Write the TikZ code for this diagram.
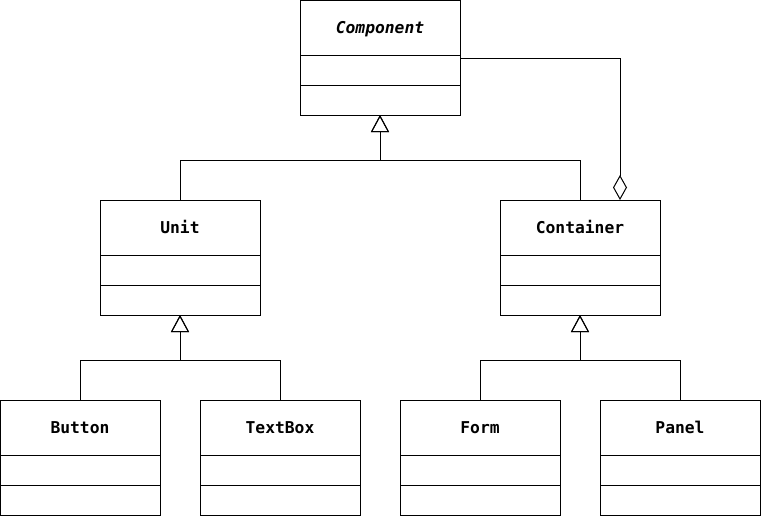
\documentclass[tikz,border=0pt]{standalone}
\usepackage{fontspec}
\setmonofont{DejaVu Sans Mono}
\usetikzlibrary{positioning,arrows.meta,calc}
\tikzset{
  cls/.style={draw, minimum width=160pt, minimum height=55pt, inner sep=0pt, outer sep=0pt,
    text height=1.12em, text depth=0em,
    font=\ttfamily\bfseries\fontsize{16.3}{19}\selectfont},
  part/.style={draw, minimum width=160pt, minimum height=30pt, inner sep=0pt, outer sep=0pt, below=0pt of #1},
  isa/.style={-{Triangle[open,length=17pt,width=18pt]}},
  has/.style={{Diamond[open,length=25pt,width=14pt]}-}
}
\begin{document}
\begin{tikzpicture}[x=1pt,y=-1pt,line width=1pt]
        \useasboundingbox (0,0) rectangle (761,517);

        % classes
        \node[cls] (comp) at (380,27.5) {\itshape Component};
        \node[part=comp] (comp-a) {};
        \node[part=comp-a] (comp-b) {};

        \node[cls] (unit) at (180,227.5) {Unit};
        \node[part=unit] (unit-a) {};
        \node[part=unit-a] (unit-b) {};

        \node[cls] (cont) at (580,227.5) {Container};
        \node[part=cont] (cont-a) {};
        \node[part=cont-a] (cont-b) {};

        \node[cls] (btn) at (80,427.5) {Button};
        \node[part=btn] (btn-a) {};
        \node[part=btn-a] (btn-b) {};

        \node[cls] (tbox) at (280,427.5) {TextBox};
        \node[part=tbox] (tbox-a) {};
        \node[part=tbox-a] (tbox-b) {};

        \node[cls] (form) at (480,427.5) {Form};
        \node[part=form] (form-a) {};
        \node[part=form-a] (form-b) {};

        \node[cls] (panel) at (680,427.5) {Panel};
        \node[part=panel] (panel-a) {};
        \node[part=panel-a] (panel-b) {};

        % inheritance
        \draw[isa] (unit.north) -- ++(0,-40) -| (comp-b.south);
        \draw[isa] (cont.north) -- ++(0,-40) -| (comp-b.south);
        \draw[isa] (btn.north) -- ++(0,-40) -| (unit-b.south);
        \draw[isa] (tbox.north) -- ++(0,-40) -| (unit-b.south);
        \draw[isa] (form.north) -- ++(0,-40) -| (cont-b.south);
        \draw[isa] (panel.north) -- ++(0,-40) -| (cont-b.south);

        % aggregation
        \coordinate (agg) at ($(cont.north)+(40,0)$);
        \draw[has] (agg) |- ([yshift=-3pt]comp-a.north east);
\end{tikzpicture}
\end{document}
